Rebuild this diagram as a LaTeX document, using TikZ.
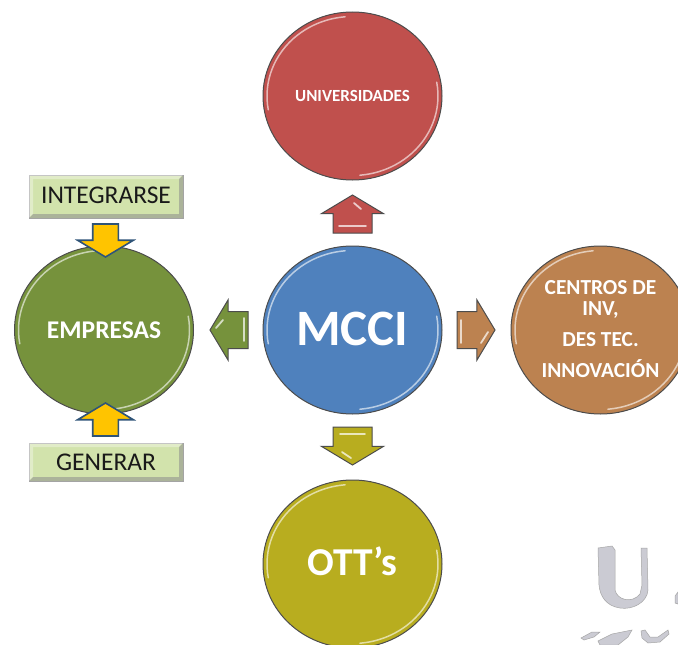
\documentclass[tikz,border=0pt]{standalone}
\usepackage{fontspec}
\setmainfont{Carlito}
\usetikzlibrary{shapes.geometric,shapes.arrows,calc}
\definecolor{cred}{HTML}{C0504D}
\definecolor{cblue}{HTML}{4F81BD}
\definecolor{cgreen}{HTML}{76923C}
\definecolor{corange}{HTML}{BC8250}
\definecolor{colive}{HTML}{B8AD1F}
\definecolor{cbox}{HTML}{D2E3AC}
\definecolor{cgold}{HTML}{FFC400}
\definecolor{cgoldedge}{HTML}{2F5478}
\definecolor{cmark}{HTML}{CBCBD3}
\tikzset{
  disc/.style={ellipse,draw=black!70,line width=1pt,fill=#1,minimum width=179pt,minimum height=168pt,inner sep=0pt,outer sep=0pt,text=white,font=\bfseries,align=center},
  blockarrow/.style={single arrow,draw=black!70,line width=1pt,fill=#1,outer sep=0pt,minimum height=38pt,minimum width=60pt,single arrow head extend=11.5pt,single arrow tip angle=118,single arrow head indent=0pt,anchor=tip},
  goldarrow/.style={single arrow,draw=cgoldedge,line width=1.6pt,fill=cgold,outer sep=0pt,minimum height=33pt,minimum width=54pt,single arrow head extend=15pt,single arrow tip angle=118,single arrow head indent=0pt,anchor=tip,inner xsep=12pt,inner ysep=0pt},
  vertical/.style={inner xsep=19pt,inner ysep=0pt},
  horizontal/.style={inner ysep=18pt,inner xsep=0pt},
  labelbox/.style={rectangle,draw=black!35,line width=.6pt,fill=cbox,inner sep=0pt,outer sep=0pt,minimum width=154pt},
  labeltext/.style={font=\fontsize{25.5}{27}\selectfont,text=black!90,inner sep=0pt},
  gloss/.style={white!60!#1,line width=1.5pt,line cap=round},
  shine/.style={white!70!#1,line width=1.8pt,line cap=round},
  bevdark/.style={fill=black!45,opacity=.55},
  bevlight/.style={fill=white,opacity=.35},
  markfill/.style={fill=cmark,draw=black!35,line width=.5pt}
}
\newcommand{\discgloss}[2]{%
  \draw[gloss=#2] ([shift={(170:85.5 and 79.5)}]#1.center) arc[start angle=170,end angle=265,x radius=85.5,y radius=79.5];
  \draw[gloss=#2] ([shift={(-10:85.5 and 79.5)}]#1.center) arc[start angle=-10,end angle=85,x radius=85.5,y radius=79.5];
}
\newcommand{\boxbevel}[1]{%
  \fill[bevlight] (#1.north west) -- (#1.north east) -- ([shift={(-4,4)}]#1.north east) -- ([shift={(4,4)}]#1.north west) -- cycle;
  \fill[bevlight] (#1.north west) -- (#1.south west) -- ([shift={(4,-4)}]#1.south west) -- ([shift={(4,4)}]#1.north west) -- cycle;
  \fill[bevdark] (#1.north east) -- (#1.south east) -- ([shift={(-4,-4)}]#1.south east) -- ([shift={(-4,4)}]#1.north east) -- cycle;
  \fill[bevdark] (#1.south west) -- (#1.south east) -- ([shift={(-4,-4)}]#1.south east) -- ([shift={(4,-4)}]#1.south west) -- cycle;
}
\begin{document}
\begin{tikzpicture}[x=1pt,y=-1pt]
\useasboundingbox (0,0) rectangle (678,645);
\clip (0,0) rectangle (678,645);
\fill[white] (0,0) rectangle (678,645);

% watermark fragment
\filldraw[markfill] (598,548) -- (612,546) -- (615,550) -- (615,590)
  .. controls (617,600) and (632,604) .. (640,594) -- (642,585) -- (641,548) -- (647,548) -- (648,590)
  .. controls (647,603) and (632,610) .. (620,608) .. controls (606,606) and (600,596) .. (599,585) -- cycle;
\filldraw[markfill] (675,596) -- (678,592) -- (678,604) -- (675,603) -- cycle;
\filldraw[markfill] (581,638) -- (592,632) -- (600,632) -- (594,637) -- (584,640) -- cycle;
\filldraw[markfill] (598,641) -- (612,634) -- (632,630) -- (628,637) -- (618,645) -- (600,645) -- cycle;
\filldraw[markfill] (641,631) -- (645,630) -- (650,637) -- (658,637) -- (668,630) -- (669,634) -- (660,642) -- (648,643) -- (642,638) -- cycle;

% discs
\node[disc=cred,font=\bfseries\fontsize{17}{19}\selectfont] (uni) at (352.5,96) {UNIVERSIDADES};
\node[disc=cblue,font=\bfseries\fontsize{51}{53}\selectfont,text depth=3pt] (mcci) at (352.5,330) {MCCI};
\node[disc=cgreen,font=\bfseries\fontsize{25.5}{27}\selectfont] (emp) at (104,330) {EMPRESAS};
\node[disc=corange] (cen) at (600.5,330) {};
\node[disc=colive,font=\bfseries\fontsize{39.5}{41}\selectfont,text depth=5pt] (ott) at (352.5,564) {OTT’s};
\node[text=white,font=\bfseries\fontsize{21.4}{21}\selectfont,align=center,inner sep=0pt] (centxt) at (600.5,329) {CENTROS DE\\INV,\\[10pt]DES TEC.\\[10pt]INNOVACIÓN};
\discgloss{uni}{cred}
\discgloss{mcci}{cblue}
\discgloss{emp}{cgreen}
\discgloss{cen}{corange}
\discgloss{ott}{colive}

% block arrows from the centre disc
\node[blockarrow=cred,vertical,shape border rotate=90] (aup) at (352.5,195) {};
\node[blockarrow=colive,vertical,shape border rotate=270] (adown) at (352.5,465) {};
\node[blockarrow=cgreen,horizontal,shape border rotate=180] (aleft) at (210,330) {};
\node[blockarrow=corange,horizontal,shape border rotate=0] (aright) at (495,330) {};

% arrow highlights
\draw[shine=cred] (339,226) -- (366,226);
\draw[shine=cred] (354,203) -- (361,209);
\draw[shine=colive] (340,434) -- (365,434);
\draw[shine=colive] (342,452) -- (351,458);
\draw[shine=cgreen] (244,318) -- (244,341);
\draw[shine=cgreen] (216,328) -- (223,320);
\draw[shine=corange] (461,320) -- (461,343);
\draw[shine=corange] (481,343) -- (488,332);

% label boxes
\node[labelbox,minimum height=43pt] (integ) at (106,196.5) {};
\node[labelbox,minimum height=38pt] (gen) at (106,462) {};
\boxbevel{integ}
\boxbevel{gen}
\node[labeltext] (integtxt) at (106,195.5) {INTEGRARSE};
\node[labeltext] (gentxt) at (106,462) {GENERAR};

% gold arrows
\node[goldarrow,shape border rotate=270] (gtop) at (105.5,257) {};
\node[goldarrow,shape border rotate=90] (gbot) at (105.5,403) {};
\end{tikzpicture}
\end{document}
